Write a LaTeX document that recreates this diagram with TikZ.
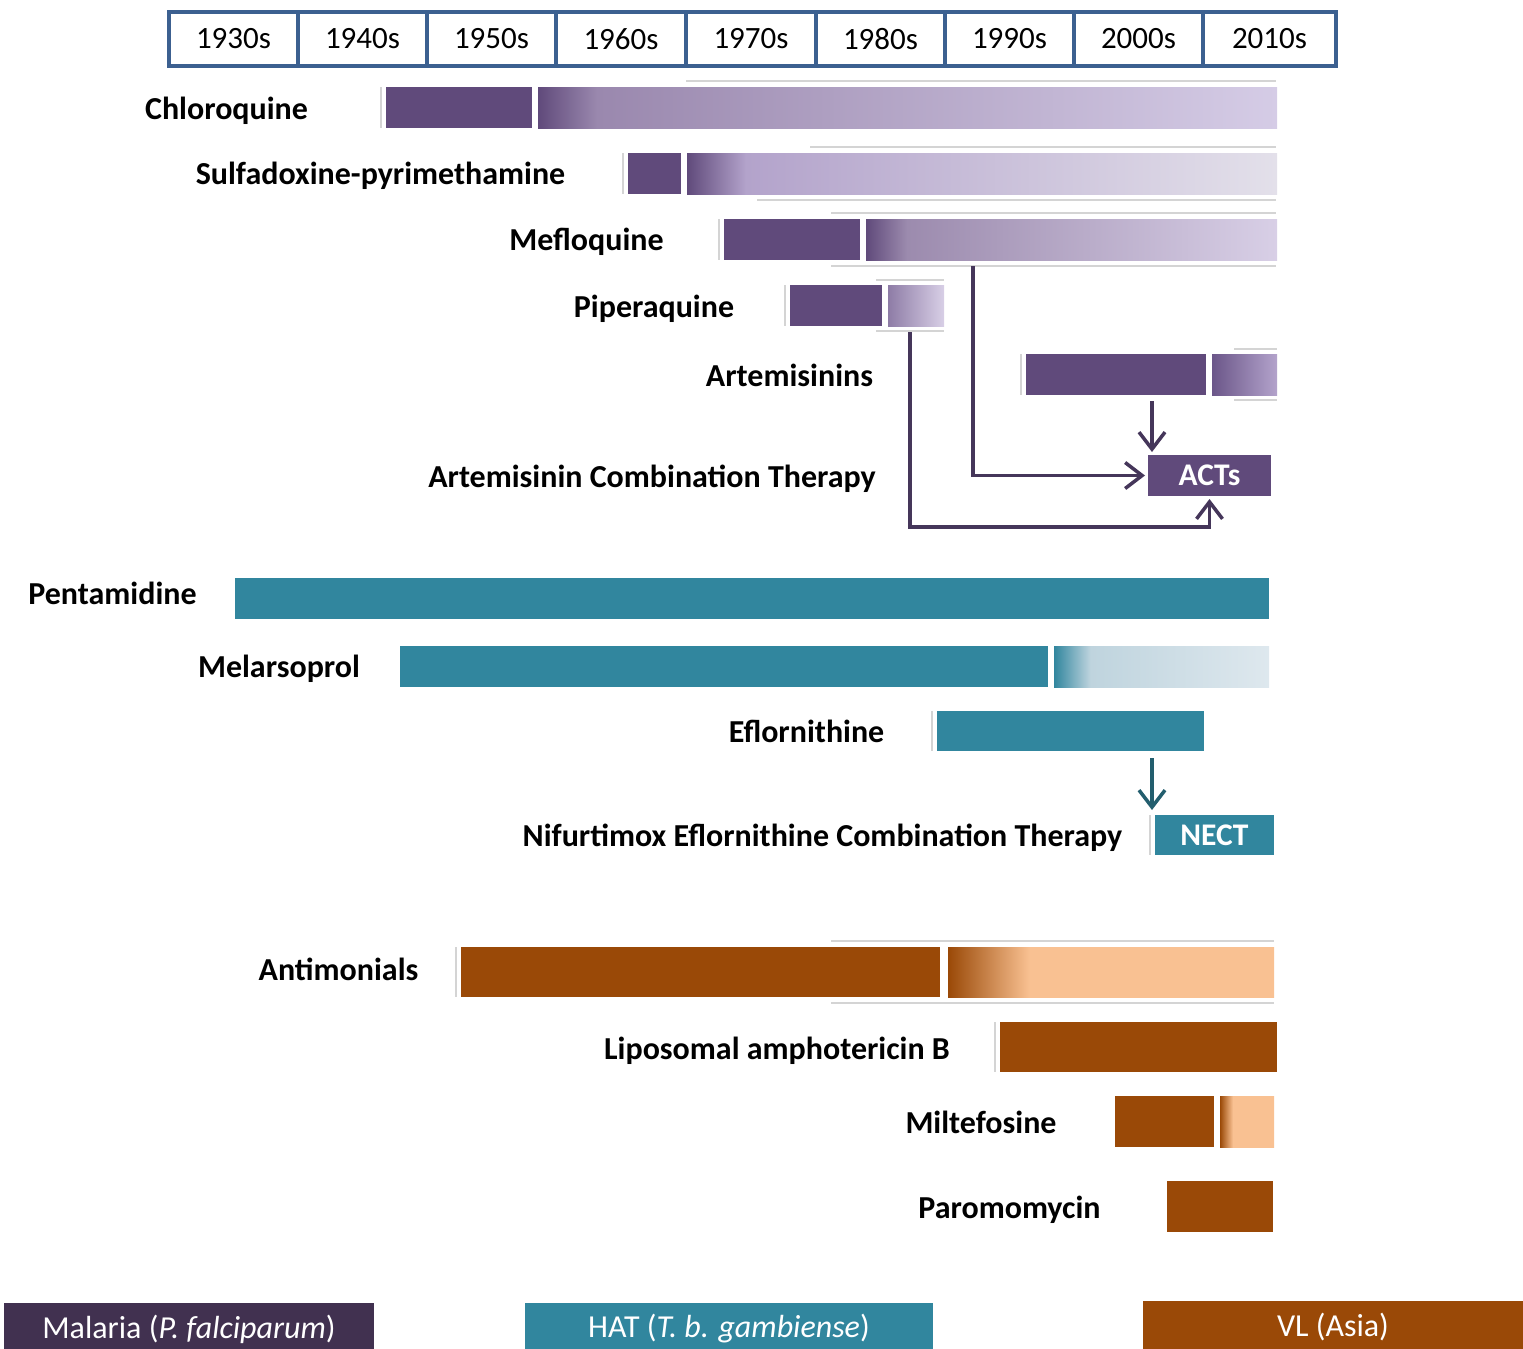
\documentclass[tikz,border=0pt]{standalone}
\usepackage{fontspec}
\setmainfont{Carlito}
\usetikzlibrary{arrows.meta}
\definecolor{mpurple}{HTML}{604A7B}
\definecolor{mteal}{HTML}{31869E}
\definecolor{mbrown}{HTML}{9A4907}
\definecolor{hdrblue}{HTML}{3C6090}
\definecolor{legpurple}{HTML}{413150}
\definecolor{arrpurple}{HTML}{45365A}
\definecolor{arrteal}{HTML}{235E6E}
\definecolor{pMidA}{HTML}{9A88AE}
\definecolor{pEndA}{HTML}{D5CCE6}
\definecolor{pMidB}{HTML}{B3A3CB}
\definecolor{pEndB}{HTML}{E3E0EA}
\definecolor{pMidC}{HTML}{9C8BAE}
\definecolor{pEndC}{HTML}{D8CFE6}
\definecolor{pPipL}{HTML}{8E7CA6}
\definecolor{pArtL}{HTML}{6B5689}
\definecolor{tMid}{HTML}{BFD4DE}
\definecolor{tEnd}{HTML}{DEE8EE}
\definecolor{oLight}{HTML}{F9C192}
\pgfdeclarehorizontalshading{shChloro}{100bp}{color(0bp)=(mpurple); color(25bp)=(mpurple); color(29bp)=(pMidA); color(75bp)=(pEndA); color(100bp)=(pEndA)}
\pgfdeclarehorizontalshading{shSulfa}{100bp}{color(0bp)=(mpurple); color(25bp)=(mpurple); color(30bp)=(pMidB); color(75bp)=(pEndB); color(100bp)=(pEndB)}
\pgfdeclarehorizontalshading{shMeflo}{100bp}{color(0bp)=(mpurple); color(25bp)=(mpurple); color(30bp)=(pMidC); color(75bp)=(pEndC); color(100bp)=(pEndC)}
\pgfdeclarehorizontalshading{shPip}{100bp}{color(0bp)=(pPipL); color(25bp)=(pPipL); color(75bp)=(pEndC); color(100bp)=(pEndC)}
\pgfdeclarehorizontalshading{shArt}{100bp}{color(0bp)=(pArtL); color(25bp)=(pArtL); color(75bp)=(pMidB); color(100bp)=(pMidB)}
\pgfdeclarehorizontalshading{shMelar}{100bp}{color(0bp)=(mteal); color(25bp)=(mteal); color(33.5bp)=(tMid); color(75bp)=(tEnd); color(100bp)=(tEnd)}
\pgfdeclarehorizontalshading{shAntim}{100bp}{color(0bp)=(mbrown); color(25bp)=(mbrown); color(37.5bp)=(oLight); color(75bp)=(oLight); color(100bp)=(oLight)}
\pgfdeclarehorizontalshading{shMilte}{100bp}{color(0bp)=(mbrown); color(25bp)=(mbrown); color(37bp)=(oLight); color(75bp)=(oLight); color(100bp)=(oLight)}
\newcommand\mybar[6]{\node[bar,#6,minimum width={(#4-#2)*1pt},minimum height={(#5-#3)*1pt}] (#1) at (#2,#3) {};}
\begin{document}
\begin{tikzpicture}[x=1pt,y=-1pt,
  yr/.style={draw=hdrblue, line width=4pt, inner sep=0pt, anchor=north west, minimum height=54pt, font=\fontsize{31}{36}\selectfont},
  lbl/.style={inner sep=0pt, anchor=base, font=\bfseries\fontsize{32}{36}\selectfont},
  bar/.style={inner sep=0pt, outer sep=0pt, anchor=north west, draw=none},
  boxtxt/.style={inner sep=0pt, outer sep=0pt, anchor=north west, text=white, font=\bfseries\fontsize{31.5}{36}\selectfont},
  leg/.style={inner sep=0pt, outer sep=0pt, anchor=north west, text=white, font=\fontsize{32}{36}\selectfont},
  faintl/.style={draw=black!17, line width=1.3pt},
  arrP/.style={draw=arrpurple, line width=3.5pt, -{Straight Barb[length=17pt,width=26pt,line width=3.5pt]}},
  arrT/.style={draw=arrteal, line width=3.5pt, -{Straight Barb[length=17pt,width=26pt,line width=3.5pt]}}]
\useasboundingbox (0,0) rectangle (1523,1349);

% header
\node[yr, minimum width=129pt] (y30) at (167,10) {1930s};
\node[yr, minimum width=129pt] (y40) at (296,10) {1940s};
\node[yr, minimum width=129pt] (y50) at (425,10) {1950s};
\node[yr, minimum width=130pt] (y60) at (554,10) {1960s};
\node[yr, minimum width=130pt] (y70) at (684,10) {1970s};
\node[yr, minimum width=129pt] (y80) at (814,10) {1980s};
\node[yr, minimum width=129pt] (y90) at (943,10) {1990s};
\node[yr, minimum width=129pt] (y00) at (1072,10) {2000s};
\node[yr, minimum width=133pt] (y10) at (1201,10) {2010s};

% faint shadow lines
\draw[faintl] (381,87) -- (381,128);
\draw[faintl] (686,81) -- (1276,81);
\draw[faintl] (623,153) -- (623,194);
\draw[faintl] (810,147) -- (1276,147);
\draw[faintl] (757,200) -- (1276,200);
\draw[faintl] (719,219) -- (719,260);
\draw[faintl] (831,213) -- (1276,213);
\draw[faintl] (831,266) -- (1276,266);
\draw[faintl] (785,285) -- (785,326);
\draw[faintl] (876,280) -- (944,280);
\draw[faintl] (876,331) -- (944,331);
\draw[faintl] (1021,354) -- (1021,395);
\draw[faintl] (1234,349) -- (1277,349);
\draw[faintl] (1234,400) -- (1277,400);
\draw[faintl] (932,711) -- (932,751);
\draw[faintl] (1150,815) -- (1150,855);
\draw[faintl] (456,947) -- (456,997);
\draw[faintl] (831,941) -- (1274,941);
\draw[faintl] (831,1003) -- (1274,1003);
\draw[faintl] (995,1022) -- (995,1072);

% malaria
\node[lbl] (lChloro) at (226.5,119) {Chloroquine};
\mybar{chloro1}{386}{87}{532}{128}{fill=mpurple}
\mybar{chloro2}{538}{87}{1277}{128}{shading=shChloro}
\node[lbl] (lSulfa) at (380.5,184) {Sulfadoxine-pyrimethamine};
\mybar{sulfa1}{628}{153}{681}{194}{fill=mpurple}
\mybar{sulfa2}{687}{153}{1277}{194}{shading=shSulfa}
\node[lbl] (lMeflo) at (586.5,250) {Mefloquine};
\mybar{meflo1}{724}{219}{860}{260}{fill=mpurple}
\mybar{meflo2}{866}{219}{1277}{260}{shading=shMeflo}
\node[lbl] (lPip) at (654,317) {Piperaquine};
\mybar{pip1}{790}{285}{882}{326}{fill=mpurple}
\mybar{pip2}{888}{285}{944}{326}{shading=shPip}
\node[lbl] (lArt) at (789.5,386) {Artemisinins};
\mybar{art1}{1026}{354}{1206}{395}{fill=mpurple}
\mybar{art2}{1212}{354}{1277}{395}{shading=shArt}
\node[lbl] (lACT) at (652,487) {Artemisinin Combination Therapy};
\node[boxtxt, fill=mpurple, minimum width=123pt, minimum height=41pt] (acts) at (1148,455) {ACTs};

\coordinate (artS) at (1152,401);
\coordinate (mfS) at (973,266);
\coordinate (ppS) at (910,332);
\coordinate (ppB) at (1209.5,527);
\draw[arrP, shorten >=3pt] (artS) -- (artS |- acts.north);
\draw[arrP, shorten >=3pt] (mfS) |- (acts.west);
\draw[arrP, shorten >=3pt] (ppS) |- (ppB) -- (acts.south);

% HAT
\node[lbl] (lPent) at (112.5,604) {Pentamidine};
\mybar{pent}{235}{578}{1269}{619}{fill=mteal}
\node[lbl] (lMelar) at (279,677) {Melarsoprol};
\mybar{melar1}{400}{646}{1048}{687}{fill=mteal}
\mybar{melar2}{1054}{646}{1269}{687}{shading=shMelar}
\node[lbl] (lEflo) at (806.5,742) {Eflornithine};
\mybar{eflo}{937}{711}{1204}{751}{fill=mteal}
\node[lbl] (lNECT) at (822.5,846) {Nifurtimox Eflornithine Combination Therapy};
\node[boxtxt, fill=mteal, minimum width=119pt, minimum height=40pt] (nect) at (1155,815) {NECT};
\coordinate (efS) at (1152,758);
\draw[arrT, shorten >=5pt] (efS) -- (efS |- nect.north);

% VL
\node[lbl] (lAntim) at (338.5,980) {Antimonials};
\mybar{antim1}{461}{947}{940}{997}{fill=mbrown}
\mybar{antim2}{948}{947}{1274}{997}{shading=shAntim}
\node[lbl] (lLipo) at (777,1059) {Liposomal amphotericin B};
\mybar{lipo}{1000}{1022}{1277}{1072}{fill=mbrown}
\node[lbl] (lMilte) at (981,1133) {Miltefosine};
\mybar{milte1}{1115}{1096}{1214}{1147}{fill=mbrown}
\mybar{milte2}{1220}{1096}{1274}{1147}{shading=shMilte}
\node[lbl] (lParo) at (1009.5,1218) {Paromomycin};
\mybar{paro}{1167}{1181}{1273}{1232}{fill=mbrown}

% legend
\node[leg, fill=legpurple, minimum width=370pt, minimum height=52pt] (legM) at (4,1303) {Malaria (\textit{P. falciparum})};
\node[leg, fill=mteal, minimum width=408pt, minimum height=52pt] (legH) at (525,1303) {HAT (\textit{T. b. gambiense})};
\node[leg, fill=mbrown, minimum width=380pt, minimum height=52pt] (legV) at (1143,1301) {VL (Asia)};
\end{tikzpicture}
\end{document}
